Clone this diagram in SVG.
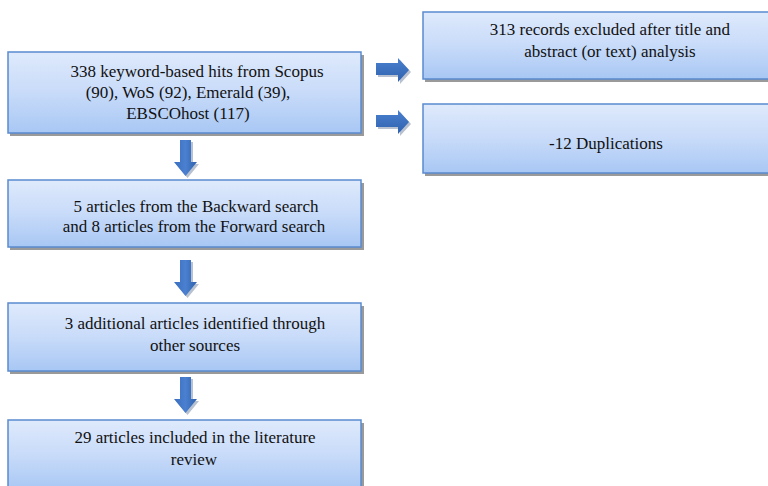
<svg xmlns="http://www.w3.org/2000/svg" width="768" height="486" viewBox="0 0 768 486" font-family="Liberation Serif, Times New Roman, serif">
<defs>
<linearGradient id="boxg" x1="0" y1="0" x2="0" y2="1">
<stop offset="0" stop-color="#dfeafc"/>
<stop offset="0.5" stop-color="#c8dbf9"/>
<stop offset="1" stop-color="#a8c7f4"/>
</linearGradient>
<linearGradient id="arrv" x1="0" y1="0" x2="1" y2="0">
<stop offset="0" stop-color="#3a6fbf"/>
<stop offset="0.5" stop-color="#4a80cf"/>
<stop offset="1" stop-color="#2f62ae"/>
</linearGradient>
<linearGradient id="arrh" x1="0" y1="0" x2="0" y2="1">
<stop offset="0" stop-color="#4a80cf"/>
<stop offset="1" stop-color="#2f62ae"/>
</linearGradient>
<polygon id="adown" points="0,0 11,0 11,22 17,22 5.5,36 -6,22 0,22"/>
<polygon id="aright" points="0,0 22,0 22,-5 33,7 22,19 22,12 0,12"/>
</defs>
<style>
.shadow{fill:#9a9a9a}
.box{fill:url(#boxg);stroke:#5a8ad0;stroke-width:1.5}
.ash{fill:#9aa7bb;opacity:0.7}
.av{fill:url(#arrv)}
.ah{fill:url(#arrh)}
.t{font-size:17px;fill:#111;text-anchor:middle}
</style>
<rect width="768" height="486" fill="#ffffff"/>

<g id="connectors">
<use href="#adown" class="ash" x="182" y="142"/>
<use href="#adown" class="av" x="180" y="140"/>
<use href="#adown" class="ash" x="182" y="262"/>
<use href="#adown" class="av" x="180" y="260"/>
<use href="#adown" class="ash" x="182" y="379"/>
<use href="#adown" class="av" x="180" y="377"/>
<use href="#aright" class="ash" x="378" y="65"/>
<use href="#aright" class="ah" x="376" y="63"/>
<use href="#aright" class="ash" x="378" y="117"/>
<use href="#aright" class="ah" x="376" y="115"/>
</g>

<g id="n1">
<rect class="shadow" x="10" y="55" width="354" height="81"/>
<rect class="box" x="8" y="52" width="353" height="81"/>
<text class="t" x="197" y="77">338 keyword-based hits from Scopus</text>
<text class="t" x="188" y="98">(90), WoS (92), Emerald (39),</text>
<text class="t" x="188" y="119">EBSCOhost (117)</text>
</g>

<g id="n2">
<rect class="shadow" x="10" y="183" width="354" height="67"/>
<rect class="box" x="8" y="180" width="353" height="67"/>
<text class="t" x="196" y="212">5 articles from the Backward search</text>
<text class="t" x="194" y="232">and 8 articles from the Forward search</text>
</g>

<g id="n3">
<rect class="shadow" x="10" y="306" width="354" height="68"/>
<rect class="box" x="8" y="303" width="353" height="68"/>
<text class="t" x="195" y="329">3 additional articles identified through</text>
<text class="t" x="195" y="351">other sources</text>
</g>

<g id="n4">
<rect class="shadow" x="10" y="423" width="354" height="70"/>
<rect class="box" x="8" y="420" width="353" height="70"/>
<text class="t" x="195" y="443">29 articles included in the literature</text>
<text class="t" x="194" y="465">review</text>
</g>

<g id="n5">
<rect class="shadow" x="425" y="15" width="345" height="67"/>
<rect class="box" x="423" y="12" width="346" height="67"/>
<text class="t" x="610" y="35">313 records excluded after title and</text>
<text class="t" x="610" y="57">abstract (or text) analysis</text>
</g>

<g id="n6">
<rect class="shadow" x="425" y="107" width="345" height="69"/>
<rect class="box" x="423" y="104" width="346" height="69"/>
<text class="t" x="606" y="149">-12 Duplications</text>
</g>
</svg>
